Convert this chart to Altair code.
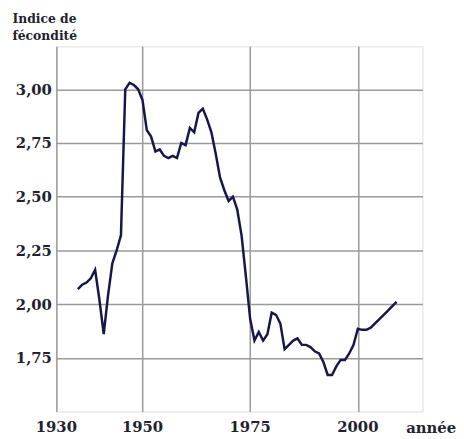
import altair as alt
import pandas as pd

years = list(range(1935, 2010))
values = [
    2.07, 2.09, 2.10, 2.12, 2.16,   # 1935-1939
    2.02, 1.86, 2.04, 2.19, 2.25,   # 1940-1944
    2.32, 3.00, 3.03, 3.02, 3.00,   # 1945-1949
    2.95, 2.81, 2.78, 2.71, 2.72,   # 1950-1954
    2.69, 2.68, 2.69, 2.68, 2.75,   # 1955-1959
    2.74, 2.82, 2.80, 2.89, 2.91,   # 1960-1964
    2.86, 2.80, 2.70, 2.59, 2.53,   # 1965-1969
    2.48, 2.50, 2.44, 2.32, 2.13,   # 1970-1974
    1.93, 1.83, 1.87, 1.83, 1.86,   # 1975-1979
    1.96, 1.95, 1.91, 1.79, 1.81,   # 1980-1984
    1.83, 1.84, 1.81, 1.81, 1.80,   # 1985-1989
    1.78, 1.77, 1.73, 1.67, 1.67,   # 1990-1994
    1.71, 1.74, 1.74, 1.77, 1.81,   # 1995-1999
    1.885, 1.88, 1.88, 1.89, 1.91,  # 2000-2004
    1.93, 1.95, 1.97, 1.99, 2.01,   # 2005-2009
]
x_ticks = [1930, 1950, 1975, 2000]
y_ticks = [1.75, 2.00, 2.25, 2.50, 2.75, 3.00]
y_title = ["Indice de", "fécondité"]
x_title = "année"

df = pd.DataFrame({"annee": years, "indice": values})
ticks_df = pd.DataFrame({"annee": x_ticks})

font = "DejaVu Serif"
txt = "#22222e"
grid = "#9a9a9a"
W, H = 371, 370

xscale = alt.Scale(domain=[1930, 2015], nice=False, zero=False)

line = alt.Chart(df).mark_line(color="#16164a", strokeWidth=2.5).encode(
    x=alt.X("annee:Q", scale=xscale,
            axis=alt.Axis(values=x_ticks, grid=True, gridColor=grid,
                          gridWidth=1.5, domain=False, ticks=False, labels=False,
                          title=x_title, titleFont=font,
                          titleFontWeight="bold", titleFontSize=15, titleColor=txt,
                          titleX=354, titleY=21, titleAlign="left",
                          titleBaseline="alphabetic", titleAngle=0)),
    y=alt.Y("indice:Q",
            scale=alt.Scale(domain=[1.5, 3.2], nice=False, zero=False),
            axis=alt.Axis(values=y_ticks,
                          labelExpr="replace(format(datum.value, '.2f'), '.', ',')",
                          grid=True, gridColor=grid, gridWidth=1.5, domain=False,
                          ticks=False, labelPadding=5, labelFont=font,
                          labelFlush=False, labelOverlap=False,
                          labelFontWeight="bold", labelFontSize=15, labelColor=txt,
                          title=y_title, titleFont=font, titleFontWeight="bold",
                          titleFontSize=12.5, titleColor=txt, titleX=-45, titleY=-34,
                          titleAlign="left", titleBaseline="top", titleAngle=0,
                          titleLineHeight=17)),
)

xlabels = alt.Chart(ticks_df).mark_text(
    font=font, fontWeight="bold", fontSize=15, color=txt,
    align="center", baseline="alphabetic"
).encode(
    x=alt.X("annee:Q", scale=xscale),
    y=alt.value(H + 21),
    text=alt.Text("annee:Q", format="d"),
)

chart = alt.layer(line, xlabels).properties(
    width=W, height=H,
    autosize=alt.AutoSizeParams(type="none"),
    padding={"left": 49, "top": 36, "right": 34, "bottom": 22},
).configure_view(stroke=grid, strokeWidth=1.5).configure(background="white")

chart.save("out.html", embed_options={"renderer": "svg", "actions": False})
